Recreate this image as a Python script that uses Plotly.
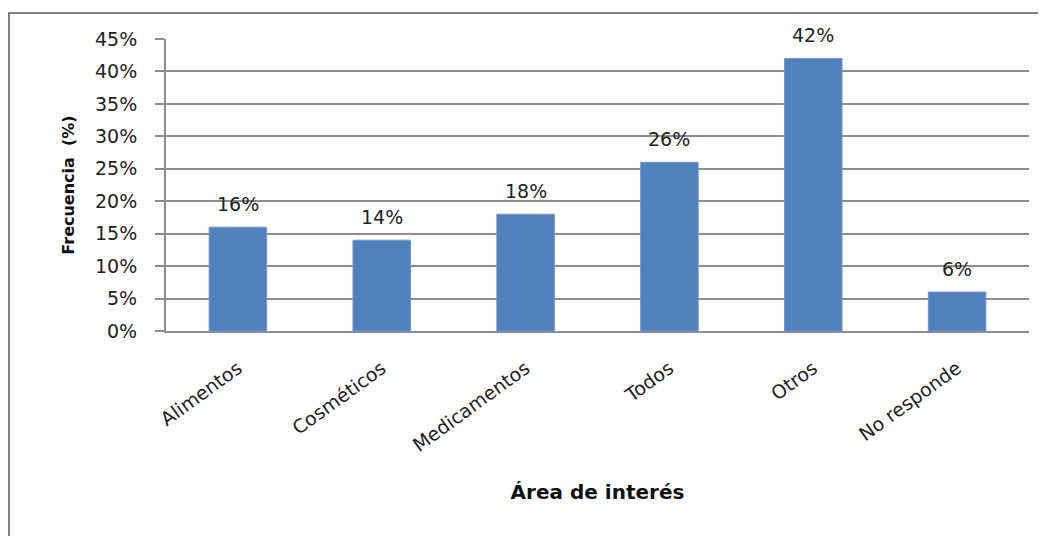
import plotly.graph_objects as go

categories = ["Alimentos", "Cosméticos", "Medicamentos", "Todos", "Otros", "No responde"]
values = [0.16, 0.14, 0.18, 0.26, 0.42, 0.06]
labels = ["16%", "14%", "18%", "26%", "42%", "6%"]

OFF = 8  # page body margin
W, H = 1046 - OFF, 536 - OFF
L, R, T, B = 166 - OFF, 1029 - OFF, 39 - OFF, 331 - OFF
pw, ph = R - L, B - T

fig = go.Figure(go.Bar(
    x=categories, y=values,
    marker=dict(color="#4F81BD", line=dict(color="#6f97cc", width=1)),
    hoverinfo="x+y",
))

for c, v, t in zip(categories, values, labels):
    fig.add_annotation(x=c, y=v, text=t, showarrow=False, yanchor="bottom", yshift=10,
                       font=dict(family="DejaVu Sans", size=19, color="#222222"))

fig.update_layout(
    width=W, height=H,
    margin=dict(l=L, r=W - R, t=T, b=H - B),
    paper_bgcolor="white", plot_bgcolor="white",
    bargap=0.6, showlegend=False,
    font=dict(family="DejaVu Sans", color="#222222"),
    xaxis=dict(
        tickangle=-36, tickfont=dict(size=19, family="DejaVu Sans", color="#222222"),
        showline=True, linecolor="#8c8c8c", linewidth=2, ticks="", showgrid=False,
        ticklabelstandoff=17,
        title=dict(text="<b>Área de interés</b>", font=dict(size=20, family="DejaVu Sans", color="#111111"), standoff=30),
    ),
    yaxis=dict(
        range=[0, 0.45], dtick=0.05, tickformat=".0%",
        tickfont=dict(size=19, family="DejaVu Sans", color="#222222"),
        showgrid=True, gridcolor="#8c8c8c", gridwidth=1.5,
        showline=True, linecolor="#8c8c8c", linewidth=2,
        ticks="outside", ticklen=9, tickcolor="#8c8c8c", tickwidth=1.5,
        ticklabelstandoff=14,
        zeroline=False,
        title=dict(text="<b>Frecuencia  (%)</b>", font=dict(size=16, family="DejaVu Sans", color="#111111"), standoff=16),
    ),
)

fig.add_shape(
    type="rect", xref="paper", yref="paper",
    x0=(9 - OFF - L) / pw, x1=(W + 10 - L) / pw,
    y0=-(H + 10 - B) / ph, y1=1 + (T - (13 - OFF)) / ph,
    line=dict(color="#7f7f7f", width=2), fillcolor="rgba(0,0,0,0)", layer="below",
)

fig.write_html("out.html")
